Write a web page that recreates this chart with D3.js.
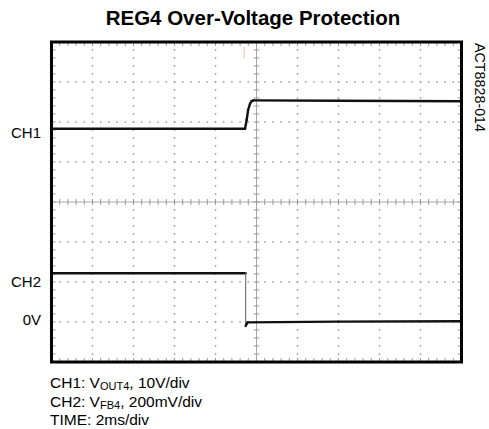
<!DOCTYPE html>
<meta charset="utf-8">
<body style="margin:0;background:#fff">
<style>
  text { font-family: "Liberation Sans", Arial, sans-serif; fill: #000; }
  .title { font-size: 20.5px; font-weight: bold; text-anchor: middle; }
  .chlabel { font-size: 15px; text-anchor: end; }
  .caption { font-size: 15.5px; }
  .figid { font-size: 14.3px; text-anchor: middle; }
  .axis-line { stroke: #a8a8a8; stroke-width: 1; }
  .axis-tick { stroke: #9a9a9a; stroke-width: 1; }
  .dot { fill: #9a9a9a; }
  .frame { fill: none; stroke: #000; stroke-width: 3; }
</style>
<svg width="489" height="429"></svg>
<script src="https://d3js.org/d3.v7.min.js"></script>
<script>

// time in ms (2ms/div, 10 div), level in screen divisions (8 div)
var ch1Time = [0, 9.44, 9.52, 9.59, 9.68, 9.76, 9.85, 14, 20];
var ch1Div  = [5.83, 5.83, 6.05, 6.30, 6.45, 6.52, 6.54, 6.53, 6.52];
var ch2Time = [0, 9.47, 9.47, 9.56, 14, 20];
var ch2Div  = [2.22, 2.22, 0.90, 0.99, 1.01, 1.02];

var markerNames = ["CH1", "CH2", "0V"];
var markerDiv   = [5.74, 2.0, 1.06];

var captionLines = [
  [["CH1: V", 0], ["OUT4", 1], [", 10V/div", 0]],
  [["CH2: V", 0], ["FB4", 1], [", 200mV/div", 0]],
  [["TIME: 2ms/div", 0]]
];

var svg = d3.select("svg");

var x = d3.scaleLinear().domain([0, 20]).range([51.5, 461.5]);
var y = d3.scaleLinear().domain([0, 8]).range([362, 42]);

// title
svg.append("text")
    .attr("class", "title")
    .attr("x", 253)
    .attr("y", 25)
    .text("REG4 Over-Voltage Protection");

// grid dots
var minorX = d3.range(0, 20.001, 0.4);
var minorY = d3.range(0, 8.001, 0.2);
var g = svg.append("g");

[2, 4, 6, 8, 12, 14, 16, 18].forEach(function (t) {
  g.selectAll(null).data(minorY).enter().append("rect")
      .attr("class", "dot")
      .attr("x", x(t) - 0.75).attr("y", function (d) { return y(d) - 0.75; })
      .attr("width", 1.5).attr("height", 1.5);
});
[1, 2, 3, 5, 6, 7].forEach(function (v) {
  g.selectAll(null).data(minorX).enter().append("rect")
      .attr("class", "dot")
      .attr("x", function (d) { return x(d) - 0.75; }).attr("y", y(v) - 0.75)
      .attr("width", 1.5).attr("height", 1.5);
});

// center axes with ticks
g.append("line").attr("class", "axis-line")
    .attr("x1", x(0)).attr("x2", x(20)).attr("y1", y(4)).attr("y2", y(4));
g.append("line").attr("class", "axis-line")
    .attr("x1", x(10)).attr("x2", x(10)).attr("y1", y(0)).attr("y2", y(8));
g.selectAll(null).data(minorX).enter().append("line")
    .attr("class", "axis-tick")
    .attr("x1", function (d) { return x(d); }).attr("x2", function (d) { return x(d); })
    .attr("y1", y(4) - 3).attr("y2", y(4) + 3);
g.selectAll(null).data(minorY).enter().append("line")
    .attr("class", "axis-tick")
    .attr("y1", function (d) { return y(d); }).attr("y2", function (d) { return y(d); })
    .attr("x1", x(10) - 3).attr("x2", x(10) + 3);

// edge ticks
g.selectAll(null).data(minorX).enter().append("line")
    .attr("class", "axis-tick")
    .attr("x1", function (d) { return x(d); }).attr("x2", function (d) { return x(d); })
    .attr("y1", y(8)).attr("y2", y(8) + 4);
g.selectAll(null).data(minorX).enter().append("line")
    .attr("class", "axis-tick")
    .attr("x1", function (d) { return x(d); }).attr("x2", function (d) { return x(d); })
    .attr("y1", y(0)).attr("y2", y(0) - 4);
g.selectAll(null).data(minorY).enter().append("line")
    .attr("class", "axis-tick")
    .attr("y1", function (d) { return y(d); }).attr("y2", function (d) { return y(d); })
    .attr("x1", x(0)).attr("x2", x(0) + 4);
g.selectAll(null).data(minorY).enter().append("line")
    .attr("class", "axis-tick")
    .attr("y1", function (d) { return y(d); }).attr("y2", function (d) { return y(d); })
    .attr("x1", x(20)).attr("x2", x(20) - 4);

// trigger marker
svg.append("line")
    .attr("x1", x(9.4)).attr("x2", x(9.4))
    .attr("y1", y(7.88)).attr("y2", y(7.6))
    .attr("stroke", "#f2c39a").attr("stroke-width", 1);

// traces: fast edges drawn faint and thin like on the scope
function drawTrace(ts, vs) {
  var pts = ts.map(function (t, i) { return [x(t), y(vs[i])]; });
  var segs = d3.pairs(pts);
  svg.append("g").selectAll("line").data(segs).enter().append("line")
      .attr("x1", function (d) { return d[0][0]; })
      .attr("y1", function (d) { return d[0][1]; })
      .attr("x2", function (d) { return d[1][0]; })
      .attr("y2", function (d) { return d[1][1]; })
      .attr("stroke", function (d) {
        var dx = Math.abs(d[1][0] - d[0][0]), dy = Math.abs(d[1][1] - d[0][1]);
        return dy > 10 * dx ? "#777" : "#111";
      })
      .attr("stroke-width", function (d) {
        var dx = Math.abs(d[1][0] - d[0][0]), dy = Math.abs(d[1][1] - d[0][1]);
        return dy > 10 * dx ? 1.2 : 2.4;
      })
      .attr("stroke-linecap", "round");
}
drawTrace(ch1Time, ch1Div);
drawTrace(ch2Time, ch2Div);

// frame
svg.append("rect").attr("class", "frame")
    .attr("x", x(0)).attr("y", y(8))
    .attr("width", x(20) - x(0)).attr("height", y(0) - y(8));

// channel markers
svg.append("g").selectAll("text").data(markerNames).enter().append("text")
    .attr("class", "chlabel")
    .attr("x", 41)
    .attr("y", function (d, i) { return y(markerDiv[i]); })
    .attr("dy", "0.36em")
    .text(function (d) { return d; });

// figure id
svg.append("text")
    .attr("class", "figid")
    .attr("transform", "translate(475,87.5) rotate(90)")
    .text("ACT8828-014");

// caption
var cap = svg.append("g");
captionLines.forEach(function (line, i) {
  var t = cap.append("text")
      .attr("class", "caption")
      .attr("x", 50)
      .attr("y", 388 + i * 18.5);
  line.forEach(function (seg) {
    var s = t.append("tspan").text(seg[0]);
    if (seg[1]) s.attr("font-size", "11px").attr("dy", 2);
    else if (t.selectAll("tspan").size() > 1) s.attr("dy", -2);
  });
});

</script>
</body>
